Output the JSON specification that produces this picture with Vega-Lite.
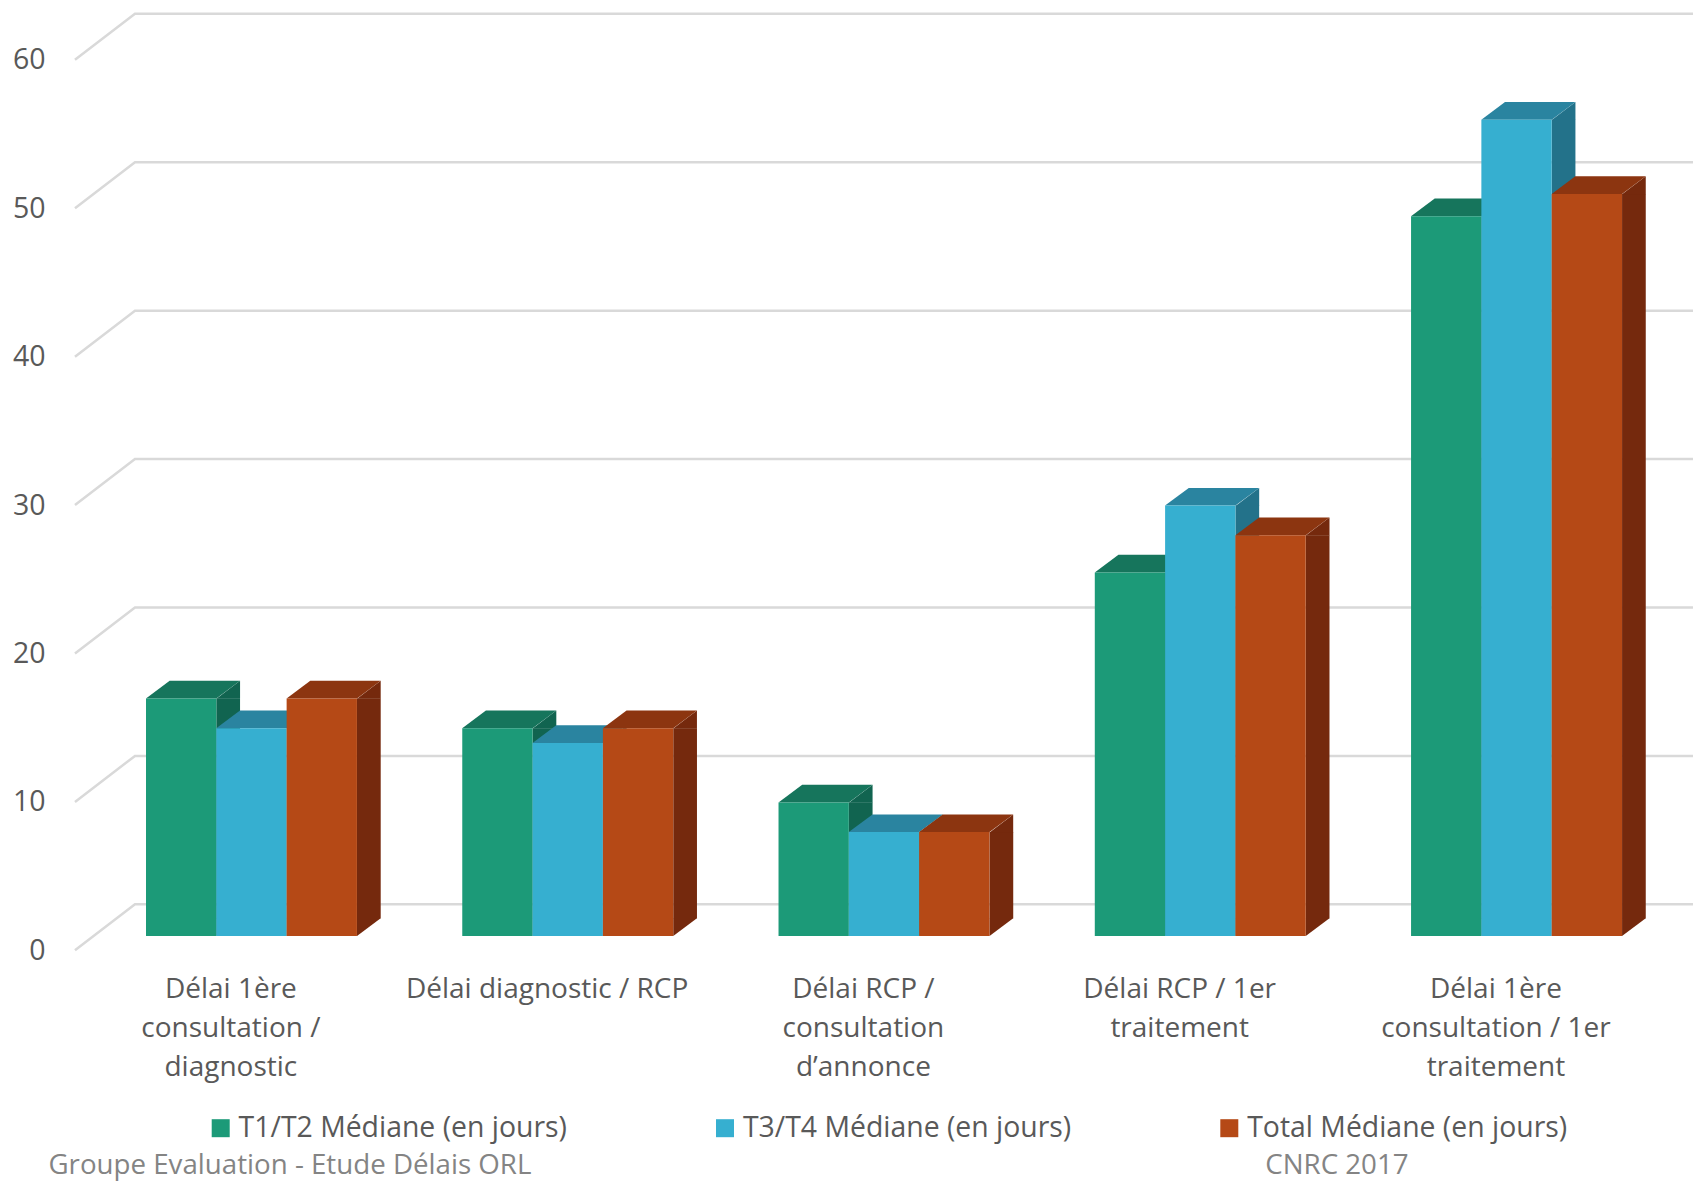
{
  "$schema": "https://vega.github.io/schema/vega-lite/v6.json",
  "width": 1693,
  "height": 936,
  "autosize": {"type": "none"},
  "padding": {"left": 0, "top": 0, "right": 0, "bottom": 245},
  "background": "white",
  "config": {"view": {"stroke": null}, "font": "Open Sans"},
  "datasets": {
    "medians": [
      {"delai": "Délai 1ère\nconsultation /\ndiagnostic", "serie": "T1/T2 Médiane (en jours)", "jours": 16},
      {"delai": "Délai 1ère\nconsultation /\ndiagnostic", "serie": "T3/T4 Médiane (en jours)", "jours": 14},
      {"delai": "Délai 1ère\nconsultation /\ndiagnostic", "serie": "Total Médiane (en jours)", "jours": 16},
      {"delai": "Délai diagnostic / RCP", "serie": "T1/T2 Médiane (en jours)", "jours": 14},
      {"delai": "Délai diagnostic / RCP", "serie": "T3/T4 Médiane (en jours)", "jours": 13},
      {"delai": "Délai diagnostic / RCP", "serie": "Total Médiane (en jours)", "jours": 14},
      {"delai": "Délai RCP /\nconsultation\nd’annonce", "serie": "T1/T2 Médiane (en jours)", "jours": 9},
      {"delai": "Délai RCP /\nconsultation\nd’annonce", "serie": "T3/T4 Médiane (en jours)", "jours": 7},
      {"delai": "Délai RCP /\nconsultation\nd’annonce", "serie": "Total Médiane (en jours)", "jours": 7},
      {"delai": "Délai RCP / 1er\ntraitement", "serie": "T1/T2 Médiane (en jours)", "jours": 24.5},
      {"delai": "Délai RCP / 1er\ntraitement", "serie": "T3/T4 Médiane (en jours)", "jours": 29},
      {"delai": "Délai RCP / 1er\ntraitement", "serie": "Total Médiane (en jours)", "jours": 27},
      {"delai": "Délai 1ère\nconsultation / 1er\ntraitement", "serie": "T1/T2 Médiane (en jours)", "jours": 48.5},
      {"delai": "Délai 1ère\nconsultation / 1er\ntraitement", "serie": "T3/T4 Médiane (en jours)", "jours": 55},
      {"delai": "Délai 1ère\nconsultation / 1er\ntraitement", "serie": "Total Médiane (en jours)", "jours": 50}
    ],
    "graduations": [{"v": 0}, {"v": 10}, {"v": 20}, {"v": 30}, {"v": 40}, {"v": 50}, {"v": 60}],
    "noteGauche": [{"note": "Groupe Evaluation - Etude Délais ORL", "ancre": "Délai 1ère\nconsultation /\ndiagnostic"}],
    "noteDroite": [{"note": "CNRC 2017", "ancre": "Délai RCP / 1er\ntraitement"}]
  },
  "layer": [
    {
      "description": "Gridlines: slanted floor segment then the run along the back wall",
      "data": {"name": "graduations"},
      "mark": {"type": "point", "shape": "M-176.5 14.3L-116.5 -31.7L1441.5 -31.7", "size": 4, "filled": false, "stroke": "#d9d9d9", "strokeWidth": 2.5, "opacity": 1},
      "encoding": {
        "x": {"datum": "Délai 1ère\nconsultation /\ndiagnostic", "type": "nominal", "title": null,
          "scale": {"domain": ["Délai 1ère\nconsultation /\ndiagnostic", "Délai diagnostic / RCP", "Délai RCP /\nconsultation\nd’annonce", "Délai RCP / 1er\ntraitement", "Délai 1ère\nconsultation / 1er\ntraitement"], "range": [146, 1622], "paddingInner": 0.333, "paddingOuter": 0},
          "axis": {"orient": "bottom", "title": null, "domain": false, "ticks": false, "labelAngle": 0, "labelPadding": 39, "labelOffset": -20.6, "labelLimit": 500,
            "labelOverlap": false, "labelBound": false, "labelFlush": false, "labelFontSize": 28, "labelColor": "#595959", "labelFont": "Open Sans", "labelLineHeight": 39,
            "labelAlign": "center", "labelBaseline": "top", "labelExpr": "split(datum.label, '\\n')"}},
        "y": {"field": "v", "type": "quantitative", "scale": {"domain": [0, 63.07], "nice": false, "zero": false},
          "axis": {"orient": "left", "offset": -45, "values": [0, 10, 20, 30, 40, 50, 60], "title": null, "domain": false, "ticks": false, "grid": false,
            "labelPadding": 0, "labelOffset": 14.3, "labelFontSize": 28.5, "labelColor": "#595959", "labelFont": "Open Sans", "labelBaseline": "middle"}}
      }
    },
    {
      "description": "Side faces of the first series: central rectangle",
      "data": {"name": "medians"},
      "transform": [{"filter": "datum.serie === 'T1/T2 Médiane (en jours)'"}],
      "mark": {"type": "bar", "width": 23.7, "xOffset": -23.28, "y2Offset": -17.7, "color": "#116450"},
      "encoding": {
        "x": {"field": "delai", "type": "nominal"},
        "y": {"field": "jours", "type": "quantitative"},
        "y2": {"datum": 0}
      }
    },
    {
      "description": "Side faces of the second series: central rectangle",
      "data": {"name": "medians"},
      "transform": [{"filter": "datum.serie === 'T3/T4 Médiane (en jours)'"}],
      "mark": {"type": "bar", "width": 23.7, "xOffset": 47.05, "y2Offset": -17.7, "color": "#23728a"},
      "encoding": {
        "x": {"field": "delai", "type": "nominal"},
        "y": {"field": "jours", "type": "quantitative"},
        "y2": {"datum": 0}
      }
    },
    {
      "description": "Side faces of the third series: central rectangle",
      "data": {"name": "medians"},
      "transform": [{"filter": "datum.serie === 'Total Médiane (en jours)'"}],
      "mark": {"type": "bar", "width": 23.7, "xOffset": 117.38, "y2Offset": -17.7, "color": "#75290d"},
      "encoding": {
        "x": {"field": "delai", "type": "nominal"},
        "y": {"field": "jours", "type": "quantitative"},
        "y2": {"datum": 0}
      }
    },
    {
      "description": "Side faces: upper triangle",
      "data": {"name": "medians"},
      "mark": {"type": "point", "shape": "M35.2 0.3L58.9 -17.7L58.9 0.3Z", "size": 4, "filled": true, "opacity": 1, "strokeWidth": 0},
      "encoding": {
        "x": {"field": "delai", "type": "nominal"},
        "xOffset": {"field": "serie", "type": "nominal", "sort": null, "scale": {"paddingInner": 0, "paddingOuter": 0}},
        "y": {"field": "jours", "type": "quantitative"},
        "color": {"field": "serie", "type": "nominal", "legend": null, "scale": {"range": ["#116450", "#23728a", "#75290d"]}}
      }
    },
    {
      "description": "Side faces: lower triangle",
      "data": {"name": "medians"},
      "mark": {"type": "point", "shape": "M35.2 -18L58.9 -18L58.9 -17.7L35.2 0Z", "size": 4, "filled": true, "opacity": 1, "strokeWidth": 0},
      "encoding": {
        "x": {"field": "delai", "type": "nominal"},
        "xOffset": {"field": "serie", "type": "nominal", "sort": null},
        "y": {"datum": 0, "type": "quantitative"},
        "color": {"field": "serie", "type": "nominal", "legend": null, "scale": {"range": ["#116450", "#23728a", "#75290d"]}}
      }
    },
    {
      "description": "Top faces, painted over the side faces of the neighbouring bar",
      "data": {"name": "medians"},
      "mark": {"type": "point", "shape": "M-35.2 0L35.2 0L58.9 -17.7L-11.5 -17.7Z", "size": 4, "filled": true, "opacity": 1, "strokeWidth": 0},
      "encoding": {
        "x": {"field": "delai", "type": "nominal"},
        "xOffset": {"field": "serie", "type": "nominal", "sort": null},
        "y": {"field": "jours", "type": "quantitative"},
        "color": {"field": "serie", "type": "nominal", "legend": null, "scale": {"range": ["#16755c", "#2a84a0", "#8c3510"]}}
      }
    },
    {
      "description": "Front faces, with the legend",
      "data": {"name": "medians"},
      "mark": {"type": "bar"},
      "encoding": {
        "x": {"field": "delai", "type": "nominal"},
        "xOffset": {"field": "serie", "type": "nominal", "sort": null},
        "y": {"field": "jours", "type": "quantitative"},
        "color": {"field": "serie", "type": "nominal", "title": null,
          "scale": {"range": ["#1c9a78", "#36afd0", "#b54916"]},
          "legend": {"orient": "none", "legendX": 206.5, "legendY": 1113.8, "direction": "horizontal", "columns": 3, "columnPadding": 143.3,
            "symbolType": "square", "symbolSize": 324, "symbolStrokeWidth": 0, "labelOffset": 3.7, "labelFontSize": 28.4, "labelColor": "#595959", "labelFont": "Open Sans", "labelLimit": 500}}
      }
    },
    {
      "description": "Left footer note",
      "data": {"name": "noteGauche"},
      "mark": {"type": "text", "align": "left", "baseline": "middle", "dx": -203, "dy": 230, "fontSize": 27.7, "font": "Open Sans", "color": "#848484"},
      "encoding": {
        "x": {"field": "ancre", "type": "nominal"},
        "y": {"datum": 0, "type": "quantitative"},
        "text": {"field": "note"}
      }
    },
    {
      "description": "Right footer note",
      "data": {"name": "noteDroite"},
      "mark": {"type": "text", "align": "left", "baseline": "middle", "dx": 65, "dy": 230, "fontSize": 27.7, "font": "Open Sans", "color": "#848484"},
      "encoding": {
        "x": {"field": "ancre", "type": "nominal"},
        "y": {"datum": 0, "type": "quantitative"},
        "text": {"field": "note"}
      }
    }
  ],
  "resolve": {"scale": {"color": "independent"}}
}
